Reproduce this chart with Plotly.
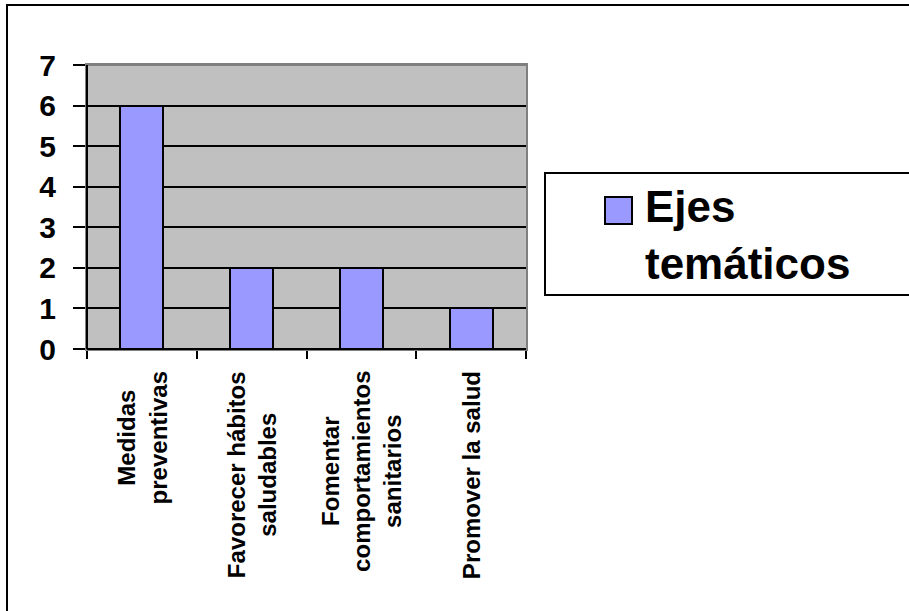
import plotly.graph_objects as go

categories = [
    "Medidas<br>preventivas",
    "Favorecer hábitos<br>saludables",
    "Fomentar<br>comportamientos<br>sanitarios",
    "Promover la salud",
]
values = [6, 2, 2, 1]
series_name = "Ejes<br>temáticos"
y_ticks = [0, 1, 2, 3, 4, 5, 6, 7]

W, H = 909, 611
# plot area in pixels
L, R, T, B = 87, 526, 65, 349
PW, PH = R - L, B - T


def px(x):
    return (x - L) / PW


def py(y):
    return (B - y) / PH


FONT = "Arial, Liberation Sans, sans-serif"
BAR_COLOR = "#9999FF"

fig = go.Figure()
fig.add_trace(go.Bar(
    x=list(range(len(categories))),
    y=values,
    width=0.39,
    marker=dict(color=BAR_COLOR, line=dict(color="black", width=2)),
    name=series_name,
    showlegend=False,
))

fig.update_layout(
    width=W, height=H,
    margin=dict(l=L, r=W - R, t=T, b=H - B),
    paper_bgcolor="white",
    plot_bgcolor="#C0C0C0",
    bargap=0,
    xaxis=dict(
        range=[-0.5, len(categories) - 0.5],
        tickmode="array",
        tickvals=[i - 0.5 for i in range(len(categories) + 1)],
        ticktext=[""] * (len(categories) + 1),
        ticks="outside", ticklen=8, tickwidth=2, tickcolor="black",
        showgrid=False, zeroline=False,
        showline=True, linecolor="#808080", linewidth=2, mirror=True,
    ),
    yaxis=dict(
        range=[0, 7],
        tickvals=y_ticks,
        ticks="outside", ticklen=12, tickwidth=2, tickcolor="black",
        showgrid=True, gridcolor="black", gridwidth=2,
        zeroline=False,
        showline=True, linecolor="#808080", linewidth=2, mirror=True,
        tickfont=dict(family=FONT, size=30, color="black", weight="bold"),
        ticklabelstandoff=11,
    ),
)

shapes = []
# top edge of plot area stays grey
shapes.append(dict(type="line", xref="paper", yref="paper", x0=0, x1=1, y0=1, y1=1,
                   line=dict(color="#808080", width=2), layer="above"))
# black left and bottom axis lines
shapes.append(dict(type="line", xref="paper", yref="paper", x0=0, x1=0, y0=0, y1=1,
                   line=dict(color="black", width=2), layer="above"))
shapes.append(dict(type="line", xref="paper", yref="paper", x0=0, x1=1, y0=0, y1=0,
                   line=dict(color="black", width=2), layer="above"))
# outer chart frame
shapes.append(dict(type="rect", xref="paper", yref="paper",
                   x0=px(7), x1=px(915), y0=py(618), y1=py(5),
                   line=dict(color="black", width=2), fillcolor="rgba(0,0,0,0)", layer="above"))
# legend box
shapes.append(dict(type="rect", xref="paper", yref="paper",
                   x0=px(545), x1=px(915), y0=py(295), y1=py(173),
                   line=dict(color="black", width=2), fillcolor="white", layer="above"))
# legend swatch
shapes.append(dict(type="rect", xref="paper", yref="paper",
                   x0=px(605), x1=px(632), y0=py(224), y1=py(197),
                   line=dict(color="black", width=2), fillcolor=BAR_COLOR, layer="above"))

annotations = []
annotations.append(dict(
    xref="paper", yref="paper", x=px(643), y=py(235),
    xanchor="left", yanchor="middle", align="left",
    text=series_name, showarrow=False,
    font=dict(family=FONT, size=44, color="black", weight="bold"),
))
for i, cat in enumerate(categories):
    annotations.append(dict(
        xref="x", yref="paper", x=i, y=0, yshift=-20,
        xanchor="center", yanchor="top", align="center",
        textangle=-90, text=cat, showarrow=False,
        font=dict(family=FONT, size=24, color="black", weight="bold"),
    ))

fig.update_layout(shapes=shapes, annotations=annotations)
fig.write_html("out.html")
